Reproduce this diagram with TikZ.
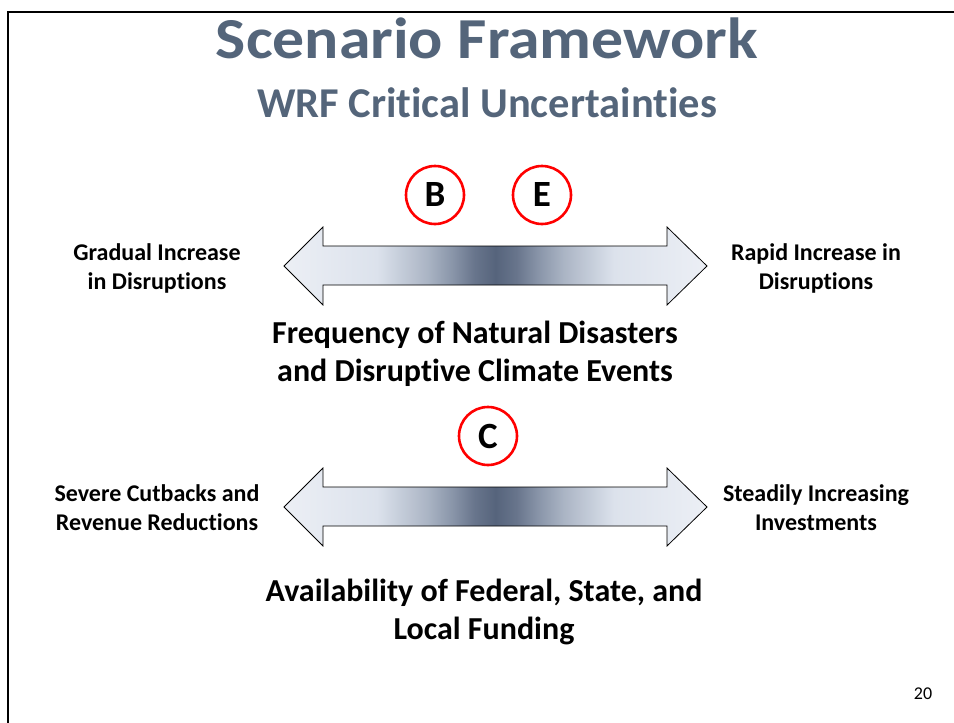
\documentclass[tikz,border=0pt]{standalone}
\usepackage{fontspec}
\setmainfont[Ligatures=NoCommon]{Carlito}
\usetikzlibrary{positioning}

\definecolor{titlegray}{RGB}{84,101,122}
\definecolor{arrend}{RGB}{236,239,245}
\definecolor{arrlight}{RGB}{220,226,236}
\definecolor{arrsoft}{RGB}{170,180,196}
\definecolor{arrmid}{RGB}{136,148,168}
\definecolor{arrdeep}{RGB}{104,117,140}
\definecolor{arrdark}{RGB}{86,100,124}
\definecolor{markred}{RGB}{255,0,0}

% light at both ends, dark in the middle
\pgfdeclarehorizontalshading{axisshade}{100bp}{color(0bp)=(arrend); color(25bp)=(arrend);
  color(36bp)=(arrlight); color(42bp)=(arrsoft); color(45bp)=(arrmid); color(47.5bp)=(arrdeep);
  color(50bp)=(arrdark); color(52.5bp)=(arrdeep); color(55bp)=(arrmid); color(58bp)=(arrsoft);
  color(64bp)=(arrlight); color(75bp)=(arrend); color(100bp)=(arrend)}

\begin{document}
\begin{tikzpicture}[x=1pt,y=-1pt,
    axis/.style={draw=black, line width=0.8pt, shading=axisshade},
    marker/.style={circle, draw=markred, line width=2.6pt, fill=white, minimum size=58pt,
      inner sep=0pt, font=\fontsize{37}{37}\selectfont\bfseries},
    endlabel/.style={align=center, font=\fontsize{24}{29}\selectfont\bfseries},
    axislabel/.style={align=center, font=\fontsize{32}{38.5}\selectfont\bfseries}]
    \useasboundingbox (0,0) rectangle (954,723);

    % Slide frame
    \draw[line width=2.5pt] (8,760) -- (8,12) -- (990,12);

    % Titles
    \node[text=titlegray, font=\fontsize{58}{58}\selectfont\bfseries, anchor=base, xscale=1.1] (title) at (487,58) {Scenario Framework};
    \node[text=titlegray, font=\fontsize{42.5}{42.5}\selectfont\bfseries, anchor=base] (subtitle) at (487,117) {WRF Critical Uncertainties};

    % The two double arrows
    \foreach \y in {266,507} {
        \shadedraw[axis] (284,\y) -- (323,\y-39) -- (323,\y-20) -- (667,\y-20) -- (667,\y-39)
            -- (707,\y) -- (667,\y+39) -- (667,\y+19) -- (323,\y+19) -- (323,\y+39) -- cycle;
    }

    % Scenario markers
    \node[marker] (b) at (435,195) {B};
    \node[marker] (e) at (542,195) {E};
    \node[marker] (c) at (488,436) {C};

    % First uncertainty
    \node[endlabel] (gradual) at (157,268) {Gradual Increase\\in Disruptions};
    \node[endlabel] (rapid) at (816,268) {Rapid Increase in\\Disruptions};
    \node[axislabel] (freq) at (475,354) {Frequency of Natural Disasters\\and Disruptive Climate Events};

    % Second uncertainty
    \node[endlabel] (cutbacks) at (157,508) {Severe Cutbacks and\\Revenue Reductions};
    \node[endlabel] (invest) at (816,508) {Steadily Increasing\\Investments};
    \node[axislabel] (funding) at (484,612) {Availability of Federal, State, and\\Local Funding};

    % Page number
    \node[font=\fontsize{18}{18}\selectfont] (page) at (923,694) {20};
\end{tikzpicture}
\end{document}
